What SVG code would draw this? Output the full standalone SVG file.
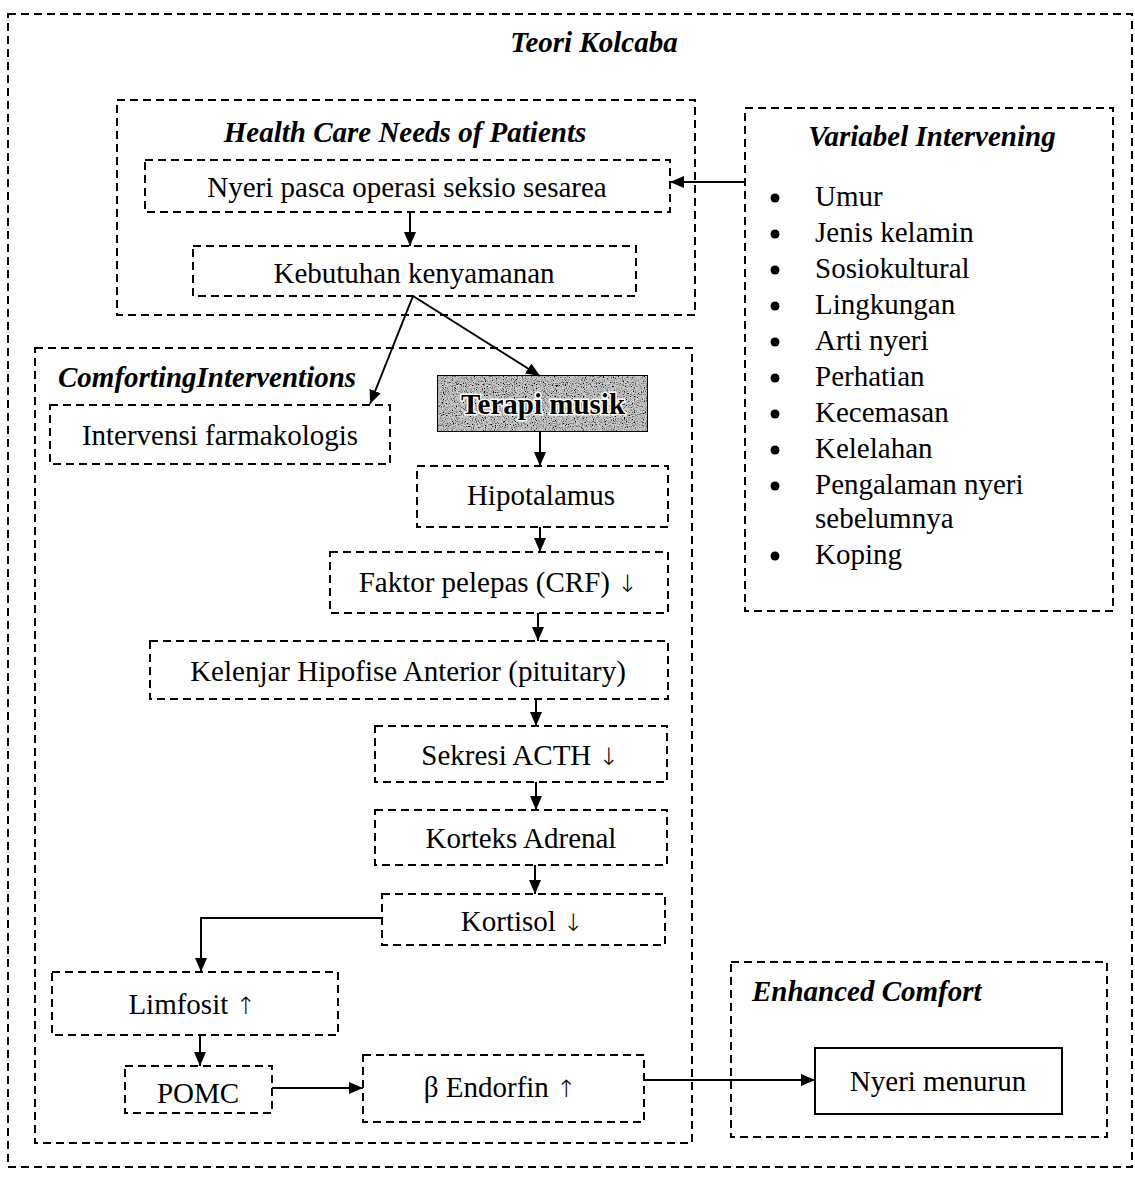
<svg xmlns="http://www.w3.org/2000/svg" width="1135" height="1177" viewBox="0 0 1135 1177">
<style>
.d{fill:none;stroke:#000;stroke-width:2;stroke-dasharray:8 5}
.s{fill:#fff;stroke:#000;stroke-width:2}
.t{font-family:"Liberation Serif","Times New Roman",serif;font-size:29px;fill:#000}
.c{text-anchor:middle}
.h{font-family:"Liberation Serif","Times New Roman",serif;font-size:29px;font-weight:bold;font-style:italic;fill:#000}
.l{fill:none;stroke:#000;stroke-width:2}
.ar{font-family:"DejaVu Sans",sans-serif;font-size:24px;font-weight:200}
</style>
<defs>
<marker id="a" viewBox="0 0 14 12" refX="14" refY="6" markerWidth="14" markerHeight="12" markerUnits="userSpaceOnUse" orient="auto">
<path d="M0,0 L14,6 L0,12 Z" fill="#000"/>
</marker>
<filter id="noise" x="0" y="0" width="1" height="1">
<feTurbulence type="fractalNoise" baseFrequency="0.9" numOctaves="2" seed="4" result="t"/>
<feColorMatrix in="t" type="matrix" values="0 0 0 0 0  0 0 0 0 0  0 0 0 0 0  3.2 0 0 0 -1.4" result="sp"/>
<feComposite in="sp" in2="SourceGraphic" operator="in" result="spc"/>
<feMerge><feMergeNode in="SourceGraphic"/><feMergeNode in="spc"/></feMerge>
</filter>
</defs>

<g id="outer">
<rect class="d" x="8" y="14" width="1124" height="1153"/>
<text class="h c" x="594" y="52">Teori Kolcaba</text>
</g>

<g id="health-care">
<rect class="d" x="117" y="100" width="578" height="215"/>
<text class="h c" x="405" y="142">Health Care Needs of Patients</text>
</g>
<g id="nyeri-pasca">
<rect class="d" x="145" y="160" width="525" height="52"/>
<text class="t c" x="407" y="197">Nyeri pasca operasi seksio sesarea</text>
</g>
<g id="kebutuhan">
<rect class="d" x="193" y="246" width="443" height="50"/>
<text class="t c" x="414" y="283">Kebutuhan kenyamanan</text>
</g>

<g id="variabel">
<rect class="d" x="745" y="108" width="368" height="503"/>
<text class="h c" x="932" y="146">Variabel Intervening</text>
<g class="t">
<circle cx="775" cy="198" r="4.5"/><text x="815" y="206">Umur</text>
<circle cx="775" cy="234" r="4.5"/><text x="815" y="242">Jenis kelamin</text>
<circle cx="775" cy="270" r="4.5"/><text x="815" y="278">Sosiokultural</text>
<circle cx="775" cy="306" r="4.5"/><text x="815" y="314">Lingkungan</text>
<circle cx="775" cy="342" r="4.5"/><text x="815" y="350">Arti nyeri</text>
<circle cx="775" cy="378" r="4.5"/><text x="815" y="386">Perhatian</text>
<circle cx="775" cy="414" r="4.5"/><text x="815" y="422">Kecemasan</text>
<circle cx="775" cy="450" r="4.5"/><text x="815" y="458">Kelelahan</text>
<circle cx="775" cy="486" r="4.5"/><text x="815" y="494">Pengalaman nyeri</text>
<text x="815" y="528">sebelumnya</text>
<circle cx="775" cy="556" r="4.5"/><text x="815" y="564">Koping</text>
</g>
</g>

<g id="comforting">
<rect class="d" x="35" y="348" width="657" height="795"/>
<text class="h" x="58" y="387">ComfortingInterventions</text>
</g>
<g id="farmakologis">
<rect class="d" x="50" y="405" width="340" height="59"/>
<text class="t c" x="220" y="445">Intervensi farmakologis</text>
</g>
<g id="terapi-musik">
<rect x="437" y="375" width="211" height="57" fill="#cccccc" stroke="#000" stroke-width="2" filter="url(#noise)"/>
<text class="t c" x="543" y="414" style="font-weight:bold;stroke:#fff;stroke-width:3;paint-order:stroke" fill="#000">Terapi musik</text>
</g>
<g id="hipotalamus">
<rect class="d" x="417" y="466" width="251" height="61"/>
<text class="t c" x="541" y="505">Hipotalamus</text>
</g>
<g id="faktor">
<rect class="d" x="330" y="552" width="338" height="61"/>
<text class="t c" x="498" y="592">Faktor pelepas (CRF) <tspan class="ar">↓</tspan></text>
</g>
<g id="kelenjar">
<rect class="d" x="150" y="641" width="518" height="58"/>
<text class="t c" x="408" y="681">Kelenjar Hipofise Anterior (pituitary)</text>
</g>
<g id="acth">
<rect class="d" x="375" y="726" width="292" height="56"/>
<text class="t c" x="520" y="765">Sekresi ACTH <tspan class="ar">↓</tspan></text>
</g>
<g id="korteks">
<rect class="d" x="375" y="810" width="292" height="55"/>
<text class="t c" x="521" y="848">Korteks Adrenal</text>
</g>
<g id="kortisol">
<rect class="d" x="382" y="894" width="283" height="51"/>
<text class="t c" x="522" y="931">Kortisol <tspan class="ar">↓</tspan></text>
</g>
<g id="limfosit">
<rect class="d" x="52" y="972" width="286" height="63"/>
<text class="t c" x="192" y="1014">Limfosit <tspan class="ar">↑</tspan></text>
</g>
<g id="pomc">
<rect class="d" x="125" y="1066" width="147" height="47"/>
<text class="t c" x="198" y="1103">POMC</text>
</g>
<g id="endorfin">
<rect class="d" x="363" y="1055" width="281" height="67"/>
<text class="t c" x="500" y="1097">β Endorfin <tspan class="ar">↑</tspan></text>
</g>

<g id="enhanced">
<rect class="d" x="731" y="962" width="376" height="175"/>
<text class="h" x="752" y="1001">Enhanced Comfort</text>
</g>
<g id="nyeri-menurun">
<rect class="s" x="815" y="1048" width="247" height="66"/>
<text class="t c" x="938" y="1091">Nyeri menurun</text>
</g>

<g id="connectors">
<line class="l" x1="745" y1="182" x2="670" y2="182" marker-end="url(#a)"/>
<line class="l" x1="410" y1="212" x2="410" y2="246" marker-end="url(#a)"/>
<line class="l" x1="413" y1="296" x2="370" y2="404" marker-end="url(#a)"/>
<line class="l" x1="413" y1="296" x2="540" y2="376" marker-end="url(#a)"/>
<line class="l" x1="540" y1="432" x2="540" y2="466" marker-end="url(#a)"/>
<line class="l" x1="540" y1="527" x2="540" y2="552" marker-end="url(#a)"/>
<line class="l" x1="538" y1="613" x2="538" y2="641" marker-end="url(#a)"/>
<line class="l" x1="536" y1="699" x2="536" y2="726" marker-end="url(#a)"/>
<line class="l" x1="536" y1="782" x2="536" y2="810" marker-end="url(#a)"/>
<line class="l" x1="535" y1="865" x2="535" y2="894" marker-end="url(#a)"/>
<polyline class="l" points="382,918 201,918 201,972" marker-end="url(#a)"/>
<line class="l" x1="200" y1="1035" x2="200" y2="1066" marker-end="url(#a)"/>
<line class="l" x1="272" y1="1088" x2="363" y2="1088" marker-end="url(#a)"/>
<line class="l" x1="644" y1="1080" x2="815" y2="1080" marker-end="url(#a)"/>
</g>
</svg>
